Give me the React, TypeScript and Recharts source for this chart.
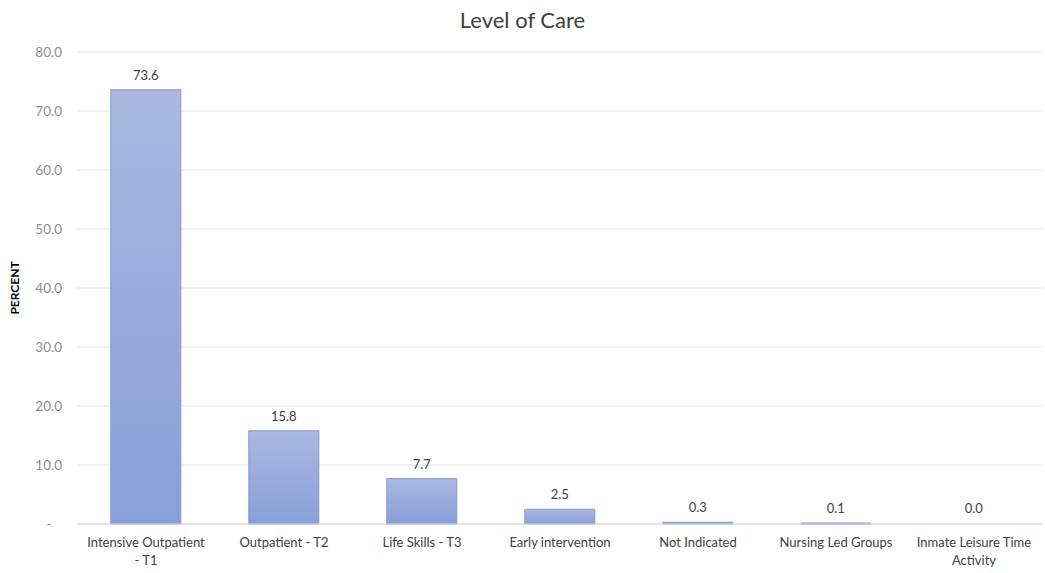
import React from 'react';
import { BarChart, Bar, XAxis, YAxis, CartesianGrid, LabelList, Text, Rectangle } from 'recharts';

const categories = [
  'Intensive Outpatient - T1',
  'Outpatient - T2',
  'Life Skills - T3',
  'Early intervention',
  'Not Indicated',
  'Nursing Led Groups',
  'Inmate Leisure Time Activity',
];
const percents = [73.6, 15.8, 7.7, 2.5, 0.3, 0.1, 0.0];
const yTicks = [0, 10, 20, 30, 40, 50, 60, 70, 80];

const data = categories.map((name, i) => ({ name, value: percents[i] }));

const FONT = 'Lato, "Open Sans", sans-serif';

const CategoryTick = (props: any) => {
  const { x, y, payload } = props;
  return (
    <Text
      x={x}
      y={y}
      width={138}
      textAnchor="middle"
      verticalAnchor="start"
      fontSize={13}
      fontFamily={FONT}
      fill="#404040"
      lineHeight={18}
    >
      {payload.value}
    </Text>
  );
};

// zero bars get a minimum height so their label is drawn, but nothing is painted
const BarShape = (props: any) => {
  if (props.value === 0) return <g />;
  return <Rectangle {...props} />;
};

const App: React.FC = () => {
  return (
    <div style={{ position: 'absolute', left: 0, top: 0, width: 1045, height: 573, background: '#fff' }}>
      <div
        style={{
          position: 'absolute',
          top: 6,
          left: 0,
          width: 1045,
          textAlign: 'center',
          fontFamily: FONT,
          fontSize: 22,
          color: '#404040',
        }}
      >
        Level of Care
      </div>
      <BarChart
        width={1045}
        height={573}
        data={data}
        margin={{ top: 52, right: 2, left: 0, bottom: 0 }}
        barCategoryGap="24.5%"
      >
        <defs>
          <linearGradient id="barFill" x1="0" y1="0" x2="0" y2="1">
            <stop offset="0%" stopColor="#aab8e1" />
            <stop offset="100%" stopColor="#889fd9" />
          </linearGradient>
        </defs>
        <CartesianGrid vertical={false} stroke="#e4e4e4" />
        <XAxis
          dataKey="name"
          height={49}
          interval={0}
          tickLine={false}
          axisLine={{ stroke: '#d9d9d9' }}
          tick={<CategoryTick />}
          tickMargin={8}
        />
        <YAxis
          width={77}
          domain={[0, 80]}
          ticks={yTicks}
          tickLine={false}
          axisLine={false}
          tickMargin={9}
          tick={{ fontSize: 13.5, fontFamily: FONT, fill: '#8c8c8c' }}
          tickFormatter={(v: number) => (v === 0 ? '-\u00a0\u00a0\u00a0' : v.toFixed(1))}
          label={{
            value: 'PERCENT',
            angle: -90,
            position: 'insideLeft',
            offset: 15,
            style: { fontSize: 12, fontWeight: 'bold', fontFamily: FONT, fill: '#000', textAnchor: 'middle' },
          }}
        />
        <Bar
          dataKey="value"
          fill="url(#barFill)"
          stroke="#8299d5"
          strokeWidth={1}
          minPointSize={1}
          shape={<BarShape />}
          isAnimationActive={false}
        >
          <LabelList
            dataKey="value"
            position="top"
            offset={10}
            formatter={(v: any) => Number(v).toFixed(1)}
            style={{ fontSize: 13, fontFamily: FONT, fill: '#404040' }}
          />
        </Bar>
      </BarChart>
    </div>
  );
};

export default App;
